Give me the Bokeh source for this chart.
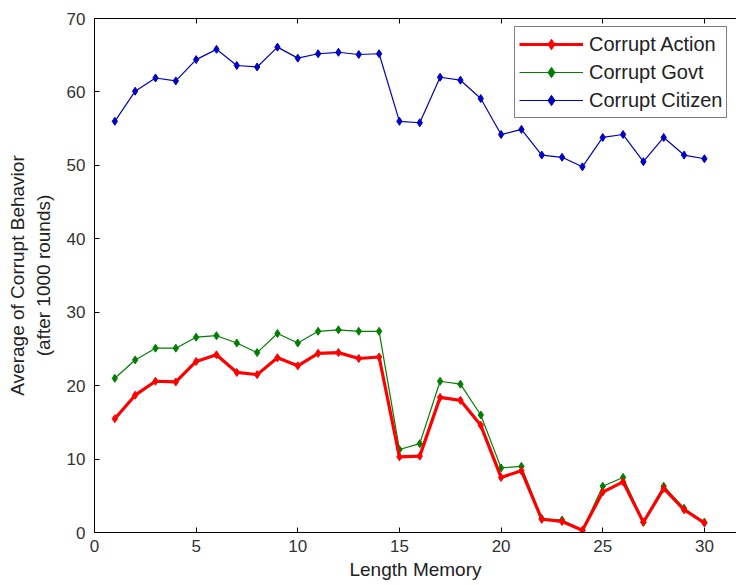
from bokeh.plotting import figure
from bokeh.models import LinearAxis, Legend, LegendItem, FixedTicker, Range1d
from bokeh.embed import file_html
from bokeh.resources import INLINE

memory = list(range(1, 31))
corrupt_action = [15.5, 18.7, 20.6, 20.5, 23.3, 24.2, 21.8, 21.5, 23.8, 22.7,
                  24.4, 24.5, 23.7, 23.9, 10.3, 10.4, 18.4, 18.0, 14.6, 7.5,
                  8.4, 1.8, 1.5, 0.3, 5.5, 6.9, 1.4, 6.0, 3.1, 1.3]
corrupt_govt = [21.0, 23.5, 25.1, 25.1, 26.6, 26.8, 25.8, 24.5, 27.1, 25.8,
                27.4, 27.6, 27.4, 27.4, 11.3, 12.1, 20.6, 20.2, 16.0, 8.8,
                9.0, 1.9, 1.7, 0.3, 6.3, 7.5, 1.4, 6.3, 3.3, 1.4]
corrupt_citizen = [56.0, 60.1, 61.9, 61.5, 64.4, 65.8, 63.6, 63.4, 66.1, 64.6,
                   65.2, 65.4, 65.1, 65.2, 56.0, 55.8, 62.0, 61.6, 59.1, 54.2,
                   54.9, 51.4, 51.1, 49.8, 53.8, 54.2, 50.5, 53.8, 51.4, 50.9]
x_ticks = [0, 5, 10, 15, 20, 25, 30]
y_ticks = [0, 10, 20, 30, 40, 50, 60, 70]

FONT = "Liberation Sans"

p = figure(width=736, height=585, output_backend="svg", toolbar_location=None,
           x_range=Range1d(0, 31.58), y_range=Range1d(0, 70),
           min_border_left=94, min_border_right=0, min_border_top=18, min_border_bottom=53)
p.outline_line_color = None
p.xgrid.visible = False
p.ygrid.visible = False
p.background_fill_color = "white"
p.border_fill_color = "white"

for ax in (p.xaxis[0], p.yaxis[0]):
    ax.major_tick_in = 5
    ax.major_tick_out = 0
    ax.minor_tick_line_color = None
    ax.axis_line_color = "black"
    ax.major_tick_line_color = "black"
    ax.major_label_text_font = FONT
    ax.major_label_text_font_size = "17px"
    ax.major_label_text_color = "#333333"
    ax.axis_label_text_font = FONT
    ax.axis_label_text_font_size = "19px"
    ax.axis_label_text_font_style = "normal"
    ax.axis_label_text_color = "#222222"

p.xaxis[0].ticker = FixedTicker(ticks=x_ticks)
p.yaxis[0].ticker = FixedTicker(ticks=y_ticks)
p.xaxis[0].axis_label = "Length Memory"
p.yaxis[0].axis_label = "Average of Corrupt Behavior\n(after 1000 rounds)"
p.xaxis[0].major_label_standoff = 7
p.xaxis[0].axis_label_standoff = 4
p.yaxis[0].major_label_standoff = 9
p.yaxis[0].axis_label_standoff = 10

top = LinearAxis(ticker=FixedTicker(ticks=x_ticks), major_label_text_color=None,
                 major_tick_in=5, major_tick_out=0, minor_tick_line_color=None,
                 axis_line_color="black", major_tick_line_color="black")
p.add_layout(top, "above")

r_cit_l = p.line(memory, corrupt_citizen, line_color="#0000c8", line_width=1.2)
r_cit_m = p.scatter(memory, corrupt_citizen, marker="diamond", size=8,
                    fill_color="#0000c8", line_color="#0000c8")
r_gov_l = p.line(memory, corrupt_govt, line_color="#007f00", line_width=1.2)
r_gov_m = p.scatter(memory, corrupt_govt, marker="diamond", size=8,
                    fill_color="#007f00", line_color="#007f00")
r_act_l = p.line(memory, corrupt_action, line_color="#ff0000", line_width=3.2)
r_act_m = p.scatter(memory, corrupt_action, marker="diamond", size=8,
                    fill_color="#ff0000", line_color="#ff0000")

legend = Legend(items=[
    LegendItem(label="Corrupt Action", renderers=[r_act_l, r_act_m]),
    LegendItem(label="Corrupt Govt", renderers=[r_gov_l, r_gov_m]),
    LegendItem(label="Corrupt Citizen", renderers=[r_cit_l, r_cit_m]),
], location=(420, 414))
legend.border_line_color = "black"
legend.border_line_width = 1
legend.background_fill_color = "white"
legend.background_fill_alpha = 1
legend.label_text_font = FONT
legend.label_text_font_size = "20px"
legend.label_text_color = "#222222"
legend.glyph_width = 64
legend.glyph_height = 26
legend.label_height = 26
legend.spacing = 2
legend.padding = 4
legend.margin = 0
legend.label_standoff = 6
p.add_layout(legend, "center")

open("out.html", "w").write(file_html(p, INLINE))
